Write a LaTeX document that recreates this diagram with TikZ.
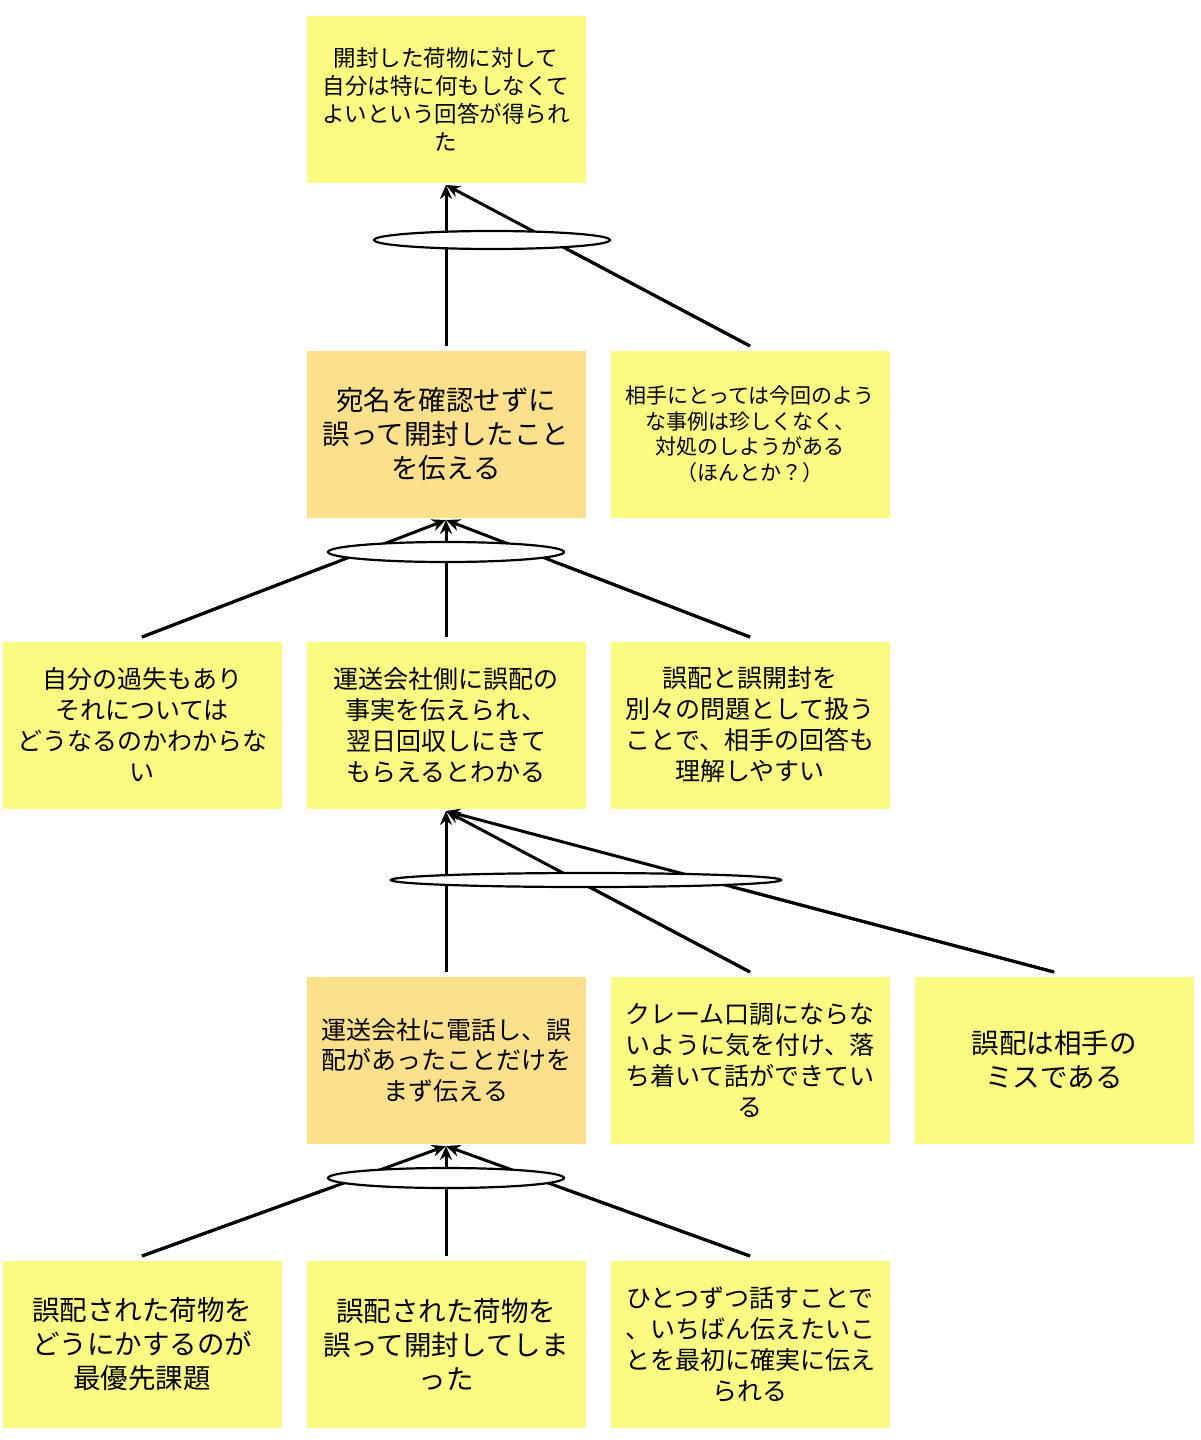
\documentclass[tikz,border=0pt]{standalone}
\usepackage{fontspec}
\setmainfont{Noto Sans CJK JP}
\usetikzlibrary{arrows.meta}
\definecolor{yel}{HTML}{FBFB84}
\definecolor{org}{HTML}{FDE08C}
\begin{document}
\begin{tikzpicture}[x=1pt,y=-1pt,
 box/.style={fill=yel,minimum width=279pt,minimum height=167pt,align=center,inner sep=2pt},
 obox/.style={box,fill=org},
 fs/.style 2 args={font=\fontsize{#1}{#2}\selectfont},
 ln/.style={line width=3pt},
 ar/.style={ln,-{Stealth[length=14pt,width=12pt]}},
 el/.style={draw,line width=2.2pt,fill=white}]
\useasboundingbox (0,0) rectangle (1200,1440);
\node[box,fs={22.5}{28}] (t) at (446,99) {開封した荷物に対して\\自分は特に何もしなくて\\よいという回答が得られ\\た};
\node[obox,fs={27.5}{34}] (a) at (446,434) {宛名を確認せずに\\誤って開封したこと\\を伝える};
\node[box,fs={21}{25.5}] (b) at (750,434) {相手にとっては今回のよう\\な事例は珍しくなく、\\対処のしようがある\\（ほんとか？）};
\node[box,fs={25}{31}] (c1) at (142,725) {自分の過失もあり\\それについては\\どうなるのかわからな\\い};
\node[box,fs={25}{31}] (c2) at (446,725) {運送会社側に誤配の\\事実を伝えられ、\\翌日回収しにきて\\もらえるとわかる};
\node[box,fs={25}{31}] (c3) at (750,725) {誤配と誤開封を\\別々の問題として扱う\\ことで、相手の回答も\\理解しやすい};
\node[obox,fs={25}{30.5}] (d1) at (446,1060) {運送会社に電話し、誤\\配があったことだけを\\まず伝える};
\node[box,fs={25}{31}] (d2) at (750,1060) {クレーム口調にならな\\いように気を付け、落\\ち着いて話ができてい\\る};
\node[box,fs={27.5}{34}] (d3) at (1054,1060) {誤配は相手の\\ミスである};
\node[box,fs={27.5}{34}] (e1) at (142,1344) {誤配された荷物を\\どうにかするのが\\最優先課題};
\node[box,fs={27.5}{34}] (e2) at (446,1344) {誤配された荷物を\\誤って開封してしま\\った};
\node[box,fs={25}{31}] (e3) at (750,1344) {ひとつずつ話すことで\\、いちばん伝えたいこ\\とを最初に確実に伝え\\られる};
% group 1
\coordinate (t1) at (446,185);
\coordinate (s11) at (446,346); \coordinate (s12) at (750,346);
\draw[ar] (s11) -- (t1); \draw[ar] (s12) -- (t1);
\draw[el] (492,240) ellipse (118pt and 9pt);
\begin{scope}\clip (0,250) rectangle (1200,346);
\draw[ln] (s11) -- (t1); \draw[ln] (s12) -- (t1);\end{scope}
% group 2
\coordinate (t2) at (446,520);
\coordinate (s21) at (142,637); \coordinate (s22) at (446,637); \coordinate (s23) at (750,637);
\draw[ar] (s21) -- (t2); \draw[ar] (s22) -- (t2); \draw[ar] (s23) -- (t2);
\draw[el] (446,552) ellipse (118pt and 10pt);
\begin{scope}\clip (0,563) rectangle (1200,640);
\draw[ln] (s21) -- (t2); \draw[ln] (s22) -- (t2); \draw[ln] (s23) -- (t2);\end{scope}
% group 3
\coordinate (t3) at (446,811);
\coordinate (s31) at (446,972); \coordinate (s32) at (750,972); \coordinate (s33) at (1054,972);
\draw[ar] (s31) -- (t3); \draw[ar] (s32) -- (t3); \draw[ar] (s33) -- (t3);
\draw[el] (586,880) ellipse (195pt and 7pt);
\begin{scope}\clip (0,888) rectangle (1200,975);
\draw[ln] (s31) -- (t3); \draw[ln] (s32) -- (t3); \draw[ln] (s33) -- (t3);\end{scope}
% group 4
\coordinate (t4) at (446,1146);
\coordinate (s41) at (142,1256); \coordinate (s42) at (446,1256); \coordinate (s43) at (750,1256);
\draw[ar] (s41) -- (t4); \draw[ar] (s42) -- (t4); \draw[ar] (s43) -- (t4);
\draw[el] (446,1178) ellipse (118pt and 10pt);
\begin{scope}\clip (0,1189) rectangle (1200,1259);
\draw[ln] (s41) -- (t4); \draw[ln] (s42) -- (t4); \draw[ln] (s43) -- (t4);\end{scope}
\end{tikzpicture}
\end{document}
